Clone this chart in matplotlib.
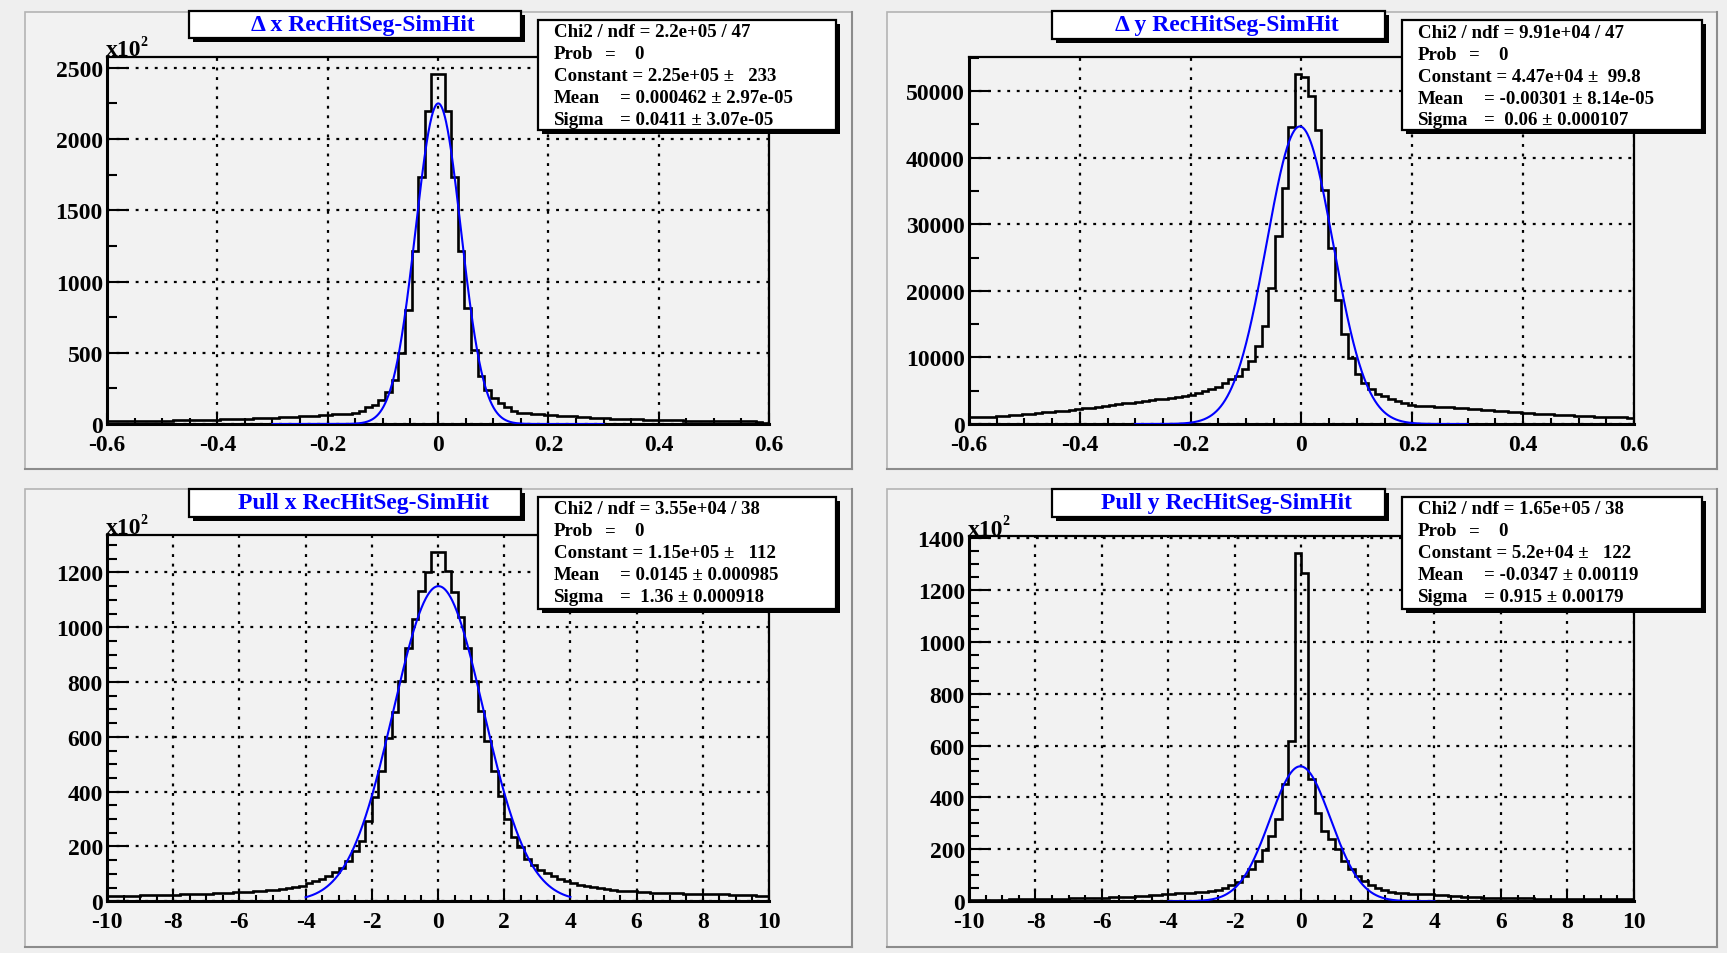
import numpy as np
import matplotlib
matplotlib.use("Agg")
import matplotlib.pyplot as plt
from matplotlib.patches import Rectangle
from matplotlib.ticker import MultipleLocator, FuncFormatter

plt.rcParams['axes.unicode_minus'] = False
plt.rcParams['font.family'] = ['Liberation Serif', 'DejaVu Serif']
plt.rcParams['font.weight'] = 'bold'

# ---------------- histogram contents (100 bins each) ----------------
# Delta x, counts in units of 10^2, range [-0.6, 0.6]
dx_counts = [
    19, 19, 20, 20, 21, 21, 22, 22, 23, 24,
    25, 26, 26, 27, 28, 29, 30, 32, 33, 34,
    36, 37, 39, 41, 43, 45, 47, 49, 51, 53,
    56, 58, 61, 64, 67, 70, 73, 77, 94, 117,
    136, 171, 223, 312, 495, 797, 1215, 1731, 2195, 2455,
    2455, 2195, 1731, 1215, 811, 518, 335, 241, 183, 148,
    117, 94, 80, 76, 72, 69, 66, 62, 59, 56,
    53, 50, 47, 45, 42, 40, 38, 36, 35, 33,
    32, 30, 29, 28, 27, 26, 25, 24, 24, 23,
    22, 22, 21, 21, 20, 20, 19, 18, 15, 10,
]

# Delta y, raw counts, range [-0.6, 0.6]
dy_counts = [
    1000, 1030, 1070, 1110, 1160, 1230, 1310, 1390, 1480, 1570,
    1660, 1740, 1830, 1920, 2020, 2120, 2220, 2330, 2450, 2560,
    2680, 2810, 2950, 3090, 3200, 3320, 3450, 3570, 3700, 3830,
    3960, 4100, 4230, 4400, 4650, 4900, 5200, 5600, 6100, 6700,
    7270, 8275, 9520, 11780, 14790, 20420, 28180, 35510, 44640, 52500,
    52060, 49300, 44200, 35200, 26420, 18640, 13550, 9860, 7480, 6100,
    5230, 4560, 4150, 3800, 3460, 3150, 2820, 2700, 2680, 2650,
    2620, 2580, 2520, 2460, 2380, 2310, 2240, 2170, 2090, 2020,
    1940, 1860, 1770, 1690, 1620, 1550, 1490, 1430, 1380, 1330,
    1280, 1230, 1190, 1150, 1110, 1080, 1050, 1010, 980, 950,
]

# Pull x, counts in units of 10^2, range [-10, 10]
px_counts = [
    20, 20, 21, 21, 21, 22, 22, 23, 23, 24,
    24, 25, 26, 26, 27, 28, 29, 30, 31, 33,
    34, 35, 37, 38, 40, 42, 45, 48, 52, 57,
    66, 73, 81, 91, 106, 122, 148, 185, 221, 294,
    379, 477, 595, 692, 805, 926, 1030, 1131, 1200, 1273,
    1273, 1206, 1127, 1036, 926, 805, 695, 585, 477, 385,
    300, 233, 197, 154, 132, 115, 103, 92, 83, 75,
    67, 61, 56, 51, 47, 44, 41, 39, 37, 36,
    35, 34, 32, 31, 30, 29, 29, 28, 28, 27,
    27, 26, 26, 25, 24, 23, 22, 22, 21, 20,
]

# Pull y, counts in units of 10^2, range [-10, 10]
py_counts = [
    5, 5, 5, 6, 6, 6, 7, 7, 7, 8,
    8, 9, 9, 10, 10, 11, 11, 12, 12, 13,
    14, 15, 16, 17, 18, 19, 21, 23, 25, 27,
    29, 31, 32, 33, 35, 37, 40, 45, 52, 62,
    76, 98, 124, 156, 196, 253, 316, 450, 617, 1340,
    1266, 470, 342, 272, 239, 200, 155, 124, 97, 77,
    63, 50, 42, 36, 33, 31, 30, 29, 28, 27,
    25, 23, 21, 19, 17, 16, 15, 14, 13, 13,
    12, 12, 11, 11, 11, 10, 10, 10, 9, 9,
    9, 9, 8, 8, 8, 8, 8, 7, 7, 7,
]

# ---------------- Gaussian fit results ----------------
titles = ["\u0394 x RecHitSeg-SimHit", "\u0394 y RecHitSeg-SimHit",
          "Pull x RecHitSeg-SimHit", "Pull y RecHitSeg-SimHit"]
x_ranges = [(-0.6, 0.6), (-0.6, 0.6), (-10, 10), (-10, 10)]
fit_ranges = [(-0.3, 0.3), (-0.3, 0.3), (-4, 4), (-4, 4)]
fit_constant = [2.25e5, 4.47e4, 1.15e5, 5.2e4]
fit_mean = [0.000462, -0.00301, 0.0145, -0.0347]
fit_sigma = [0.0411, 0.06, 1.36, 0.915]
y_scale = [100, 1, 100, 100]

chi2_text = ["Chi2 / ndf = 2.2e+05 / 47", "Chi2 / ndf = 9.91e+04 / 47",
             "Chi2 / ndf = 3.55e+04 / 38", "Chi2 / ndf = 1.65e+05 / 38"]
const_text = ["Constant = 2.25e+05 \u00b1   233", "Constant = 4.47e+04 \u00b1  99.8",
              "Constant = 1.15e+05 \u00b1   112", "Constant = 5.2e+04 \u00b1   122"]
mean_text = ["= 0.000462 \u00b1 2.97e-05", "= -0.00301 \u00b1 8.14e-05",
             "= 0.0145 \u00b1 0.000985", "= -0.0347 \u00b1 0.00119"]
sigma_text = ["= 0.0411 \u00b1 3.07e-05", "=  0.06 \u00b1 0.000107",
              "=  1.36 \u00b1 0.000918", "= 0.915 \u00b1 0.00179"]

all_counts = [dx_counts, dy_counts, px_counts, py_counts]

# ---------------- layout (pixel boxes: x0, y0, x1, y1 from top-left) ----------------
W, H = 1727, 954
pad_boxes = [(25, 13, 852, 470), (887, 13, 1717, 470),
             (25, 490, 852, 948), (887, 490, 1717, 948)]
axes_boxes = [(107, 57.7, 769, 425), (969, 58, 1634, 425),
              (107, 536, 769, 902.3), (969, 537, 1634, 902.3)]
title_boxes = [(189, 11.7, 521, 39.3), (1052, 12, 1385, 40),
               (189, 490, 521, 518), (1052, 490, 1385, 518)]
stat_boxes = [(538, 20.7, 836, 131), (1402, 21, 1702, 131),
              (538, 498, 836, 610), (1402, 498, 1702, 610)]
x_major = [0.2, 0.2, 2, 2]
x_minor = [0.05, 0.05, 0.5, 0.5]
y_major = [500, 10000, 200, 200]
y_minor = [250, 5000, 50, 50]

fig = plt.figure(figsize=(W / 100, H / 100), dpi=100)
fig.patch.set_facecolor('#efefef')


def fig_box(x0, y0, x1, y1):
    return [x0 / W, 1 - y1 / H, (x1 - x0) / W, (y1 - y0) / H]


def add_rect(x0, y0, x1, y1, **kw):
    fig.add_artist(Rectangle((x0 / W, 1 - y1 / H), (x1 - x0) / W, (y1 - y0) / H,
                             transform=fig.transFigure, **kw))


def add_text(x, y, s, **kw):
    fig.text(x / W, 1 - y / H, s, **kw)


def tick_fmt(v, _):
    return f"{round(v, 6) + 0.0:g}"


for k in range(4):
    # pad background with bevelled border
    px0, py0, px1, py1 = pad_boxes[k]
    add_rect(px0, py0, px1, py1, facecolor='#f2f2f2', edgecolor='#b4b4b4',
             lw=1.2, zorder=-2)
    fig.add_artist(plt.Line2D([px0 / W, px1 / W], [1 - py1 / H, 1 - py1 / H],
                              transform=fig.transFigure, color='#8c8c8c', lw=1.5, zorder=-1))
    fig.add_artist(plt.Line2D([px1 / W, px1 / W], [1 - py1 / H, 1 - py0 / H],
                              transform=fig.transFigure, color='#8c8c8c', lw=1.5, zorder=-1))

    ax = fig.add_axes(fig_box(*axes_boxes[k]))
    ax.set_facecolor('#f2f2f2')

    lo, hi = x_ranges[k]
    counts = np.asarray(all_counts[k], dtype=float)
    edges = np.linspace(lo, hi, len(counts) + 1)
    ax.stairs(counts, edges, color='black', lw=1.9, baseline=None, zorder=3)

    # Gaussian fit curve over the fit range
    f0, f1 = fit_ranges[k]
    xs = np.linspace(f0, f1, 600)
    amp = fit_constant[k] / y_scale[k]
    ys = amp * np.exp(-0.5 * ((xs - fit_mean[k]) / fit_sigma[k]) ** 2)
    ax.plot(xs, ys, color='#0000ff', lw=1.5, zorder=4)

    ax.set_xlim(lo, hi)
    ax.set_ylim(0, 1.05 * counts.max())

    ax.xaxis.set_major_locator(MultipleLocator(x_major[k]))
    ax.xaxis.set_minor_locator(MultipleLocator(x_minor[k]))
    ax.yaxis.set_major_locator(MultipleLocator(y_major[k]))
    ax.yaxis.set_minor_locator(MultipleLocator(y_minor[k]))
    ax.xaxis.set_major_formatter(FuncFormatter(tick_fmt))
    ax.yaxis.set_major_formatter(FuncFormatter(tick_fmt))

    ax.tick_params(which='both', direction='in', top=False, right=False,
                   colors='black')
    ax.tick_params(axis='y', which='major', length=15, width=1.5, pad=3,
                   labelsize=17)
    ax.tick_params(axis='y', which='minor', length=7.5, width=1.5)
    ax.tick_params(axis='x', which='major', length=8, width=1.5, pad=7,
                   labelsize=17)
    ax.tick_params(axis='x', which='minor', length=4, width=1.5)
    for lab in ax.get_xticklabels() + ax.get_yticklabels():
        lab.set_fontweight('bold')

    ax.grid(True, which='major', color='black', lw=1.6,
            linestyle=(0, (1.3, 3.0)))
    ax.set_axisbelow(True)
    for side in ('left', 'bottom'):
        ax.spines[side].set_linewidth(2.2)
    for side in ('top', 'right'):
        ax.spines[side].set_linewidth(1.6)

    # exponent marker for scaled axes
    if y_scale[k] == 100:
        ax0, ay0 = axes_boxes[k][0], axes_boxes[k][1]
        add_text(ax0 - 1, ay0 - 1.5, "x10", fontsize=17, fontweight='bold',
                 ha='left', va='baseline', color='black')
        add_text(ax0 + 33, ay0 - 12, "2", fontsize=10, fontweight='bold',
                 ha='left', va='baseline', color='black')

    # title box with drop shadow
    tx0, ty0, tx1, ty1 = title_boxes[k]
    add_rect(tx0 + 4, ty0 + 4, tx1 + 4, ty1 + 4, facecolor='black',
             edgecolor='none', zorder=10)
    add_rect(tx0, ty0, tx1, ty1, facecolor='white', edgecolor='black',
             lw=1.6, zorder=11)
    add_text((tx0 + tx1) / 2 + 8, (ty0 + ty1) / 2, titles[k], fontsize=17,
             fontweight='bold', color='#0000ff', ha='center', va='center',
             zorder=12)

    # statistics box with drop shadow
    sx0, sy0, sx1, sy1 = stat_boxes[k]
    add_rect(sx0 + 4, sy0 + 4, sx1 + 4, sy1 + 4, facecolor='black',
             edgecolor='none', zorder=10)
    add_rect(sx0, sy0, sx1, sy1, facecolor='white', edgecolor='black',
             lw=1.6, zorder=11)
    line_y = [sy0 + 12, sy0 + 34, sy0 + 56, sy0 + 78, sy0 + 100]
    kw = dict(fontsize=13.6, fontweight='bold', color='black', va='center',
              ha='left', zorder=12)
    lx = sx0 + 16
    add_text(lx, line_y[0], chi2_text[k], **kw)
    add_text(lx, line_y[1], "Prob", **kw)
    add_text(sx0 + 67, line_y[1], "=", **kw)
    add_text(sx0 + 96, line_y[1], "0", **kw)
    add_text(lx, line_y[2], const_text[k], **kw)
    add_text(lx, line_y[3], "Mean", **kw)
    add_text(sx0 + 82, line_y[3], mean_text[k], **kw)
    add_text(lx, line_y[4], "Sigma", **kw)
    add_text(sx0 + 82, line_y[4], sigma_text[k], **kw)

fig.savefig("out.png", dpi=100, facecolor=fig.get_facecolor())
